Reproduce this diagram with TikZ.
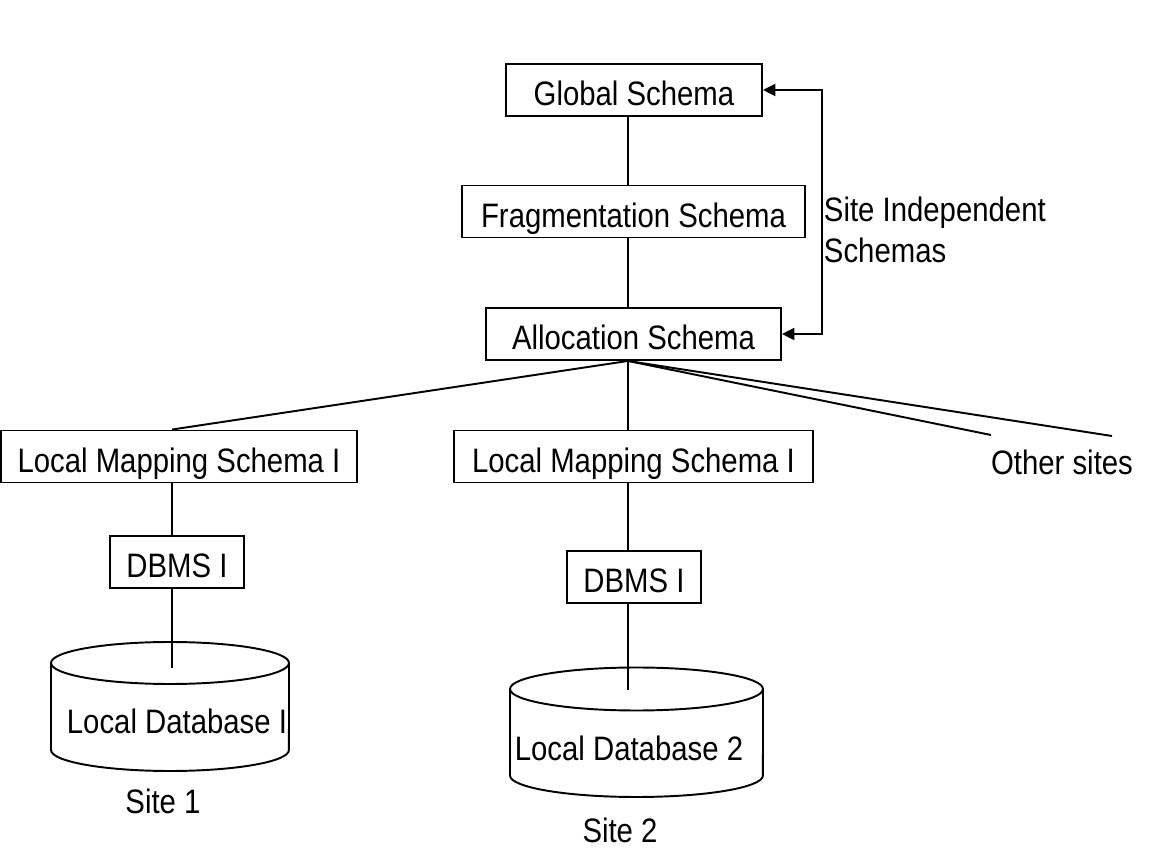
\documentclass[tikz,border=0pt]{standalone}
\usepackage{fontspec}
\setmainfont{Liberation Sans}[FakeStretch=0.865]
\usepackage{xcolor}
\usepackage{tikz}
\usetikzlibrary{positioning,arrows.meta}

\begin{document}
\begin{tikzpicture}[x=0.02cm, y=-0.02cm, font=\fontsize{19.3}{24}\selectfont, line width=1.1pt,
	box/.style={draw, minimum height=1.04cm, inner sep=0pt, align=center, text height=18pt, text depth=0pt},
	twotip/.style={{Triangle[length=0.25cm, width=0.24cm]}-{Triangle[length=0.25cm, width=0.24cm]}}]
		\useasboundingbox (0,0) rectangle (1161,861);
		\coordinate (spine) at (628,0);
		\coordinate (sideone) at (172,0);
		\node[box, minimum width=5.12cm] (global) at (634,90) {Global Schema};
		\node[box, minimum width=6.86cm] (frag) at (633.5,211.5) {Fragmentation Schema};
		\node[box, minimum width=5.9cm] (alloc) at (633.5,334) {Allocation Schema};
		\node[box, minimum width=7.12cm] (lmsone) at (179,456.5) {Local Mapping Schema I};
		\node[box, minimum width=7.18cm] (lmstwo) at (633.5,456.5) {Local Mapping Schema I};
		\node[box, minimum width=2.68cm] (dbmsone) at (177,562) {DBMS I};
		\node[box, minimum width=2.68cm] (dbmstwo) at (634,577) {DBMS I};
		\draw (global.south -| spine) -- (frag.north -| spine);
		\draw (frag.south -| spine) -- (alloc.north -| spine);
		\coordinate (bend) at (822,90);
		\draw[twotip] (global.east) -- (bend) |- (alloc.east);
		\node[anchor=base west, inner sep=0pt] (indep) at (823,222) {Site Independent};
		\node[anchor=base west, inner sep=0pt] (schemas) at (823,263) {Schemas};
		\coordinate (fan) at (alloc.south -| spine);
		\draw (fan) -- (lmsone.north -| sideone);
		\draw (fan) -- (lmstwo.north -| spine);
		\coordinate (othera) at (991,435);
		\coordinate (otherb) at (1112,436);
		\draw (fan) -- (othera);
		\draw (fan) -- (otherb);
		\node (other) at (1062,462) {Other sites};
		\draw (lmsone.south -| sideone) -- (dbmsone.north -| sideone);
		\draw (lmstwo.south -| spine) -- (dbmstwo.north -| spine);
		\draw (51,663) -- (51,750) arc[start angle=180, end angle=360, x radius=2.38cm, y radius=0.42cm] -- (289,663);
		\draw (170,663) ellipse [x radius=2.38cm, y radius=0.42cm];
		\draw (510,689) -- (510,775.5) arc[start angle=180, end angle=360, x radius=2.53cm, y radius=0.43cm] -- (763,689);
		\draw (636.5,689) ellipse [x radius=2.53cm, y radius=0.43cm];
		\coordinate (topone) at (172,668);
		\coordinate (toptwo) at (628,690);
		\draw (dbmsone.south -| sideone) -- (topone);
		\draw (dbmstwo.south -| spine) -- (toptwo);
		\node (dbone) at (177,721) {Local Database I};
		\node (dbtwo) at (629,748) {Local Database 2};
		\node (siteone) at (163,801) {Site 1};
		\node (sitetwo) at (620,830) {Site 2};
	\end{tikzpicture}
\end{document}
